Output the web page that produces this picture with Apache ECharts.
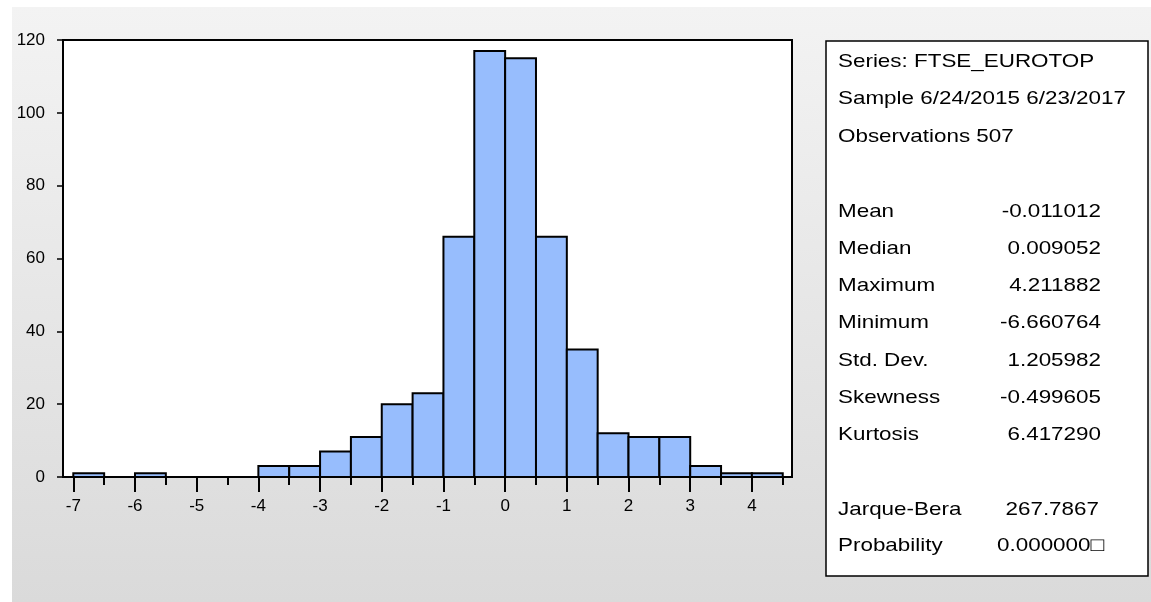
<!DOCTYPE html>
<html>
<head>
<meta charset="utf-8">
<script src="https://cdn.jsdelivr.net/npm/echarts@6/dist/echarts.min.js"></script>
<style>
html,body{margin:0;padding:0;background:#fff;}
#chart{width:1151px;height:602px;}
</style>
</head>
<body>
<div id="chart"></div>
<script>
// ---- data ----
const binStarts = [-7, -6.5, -6, -5.5, -5, -4.5, -4, -3.5, -3, -2.5, -2, -1.5, -1, -0.5, 0, 0.5, 1, 1.5, 2, 2.5, 3, 3.5, 4];
const binWidth = 0.5;
const counts = [1, 0, 1, 0, 0, 0, 3, 3, 7, 11, 20, 23, 66, 117, 115, 66, 35, 12, 11, 11, 3, 1, 1];
const xMajorTicks = [-7, -6, -5, -4, -3, -2, -1, 0, 1, 2, 3, 4];
const xMinorTicks = [-6.5, -5.5, -4.5, -3.5, -2.5, -1.5, -0.5, 0.5, 1.5, 2.5, 3.5, 4.5];
const yTicks = [0, 20, 40, 60, 80, 100, 120];
const headerLines = ['Series: FTSE_EUROTOP', 'Sample 6/24/2015 6/23/2017', 'Observations 507'];
const statNames = ['Mean', 'Median', 'Maximum', 'Minimum', 'Std. Dev.', 'Skewness', 'Kurtosis'];
const statValues = ['-0.011012', '0.009052', '4.211882', '-6.660764', '1.205982', '-0.499605', '6.417290'];
const testNames = ['Jarque-Bera', 'Probability'];
const testValues = ['267.7867', '0.000000\u25A1'];

// ---- chart ----
const chart = echarts.init(document.getElementById('chart'));
const tickFont = { color: '#000', fontFamily: 'Liberation Sans', fontSize: 17 };
const STAT_FONT = '19px "Liberation Sans"';
const SX = 1.18;

const graphics = [];
graphics.push({ type: 'rect', z: -10, silent: true, shape: { x: 0, y: 0, width: 1151, height: 602 }, style: { fill: '#fff' } });
graphics.push({
  type: 'rect', z: -9, silent: true, shape: { x: 12, y: 7, width: 1139, height: 595 },
  style: { fill: new echarts.graphic.LinearGradient(0, 0, 0, 1, [{ offset: 0, color: '#f3f3f3' }, { offset: 1, color: '#dadada' }]) }
});
graphics.push({ type: 'rect', z: 1, shape: { x: 826, y: 41, width: 322, height: 535 }, style: { fill: '#fff', stroke: '#000', lineWidth: 1.5 } });

function addText(txt, x, y, align) {
  graphics.push({
    type: 'text', z: 2, x: x, y: y, scaleX: SX,
    style: { text: txt, font: STAT_FONT, fill: '#000', textAlign: align, textVerticalAlign: 'middle' }
  });
}
const headerY = [62, 99, 137];
headerLines.forEach((t, i) => addText(t, 838, headerY[i], 'left'));
const statY = [212, 249, 286, 323, 361, 398, 435];
statNames.forEach((t, i) => { addText(t, 838, statY[i], 'left'); addText(statValues[i], 1101, statY[i], 'right'); });
const testY = [510, 546];
addText(testNames[0], 838, testY[0], 'left');
addText(testValues[0], 1099, testY[0], 'right');
addText(testNames[1], 838, testY[1], 'left');
addText(testValues[1], 997, testY[1], 'left');

const xMin = -7.167, xMax = 4.65;

const option = {
  animation: false,
  backgroundColor: 'transparent',
  grid: { left: 63, top: 40, right: 359, bottom: 125, show: true, backgroundColor: '#fff', borderColor: '#000', borderWidth: 2 },
  xAxis: [
    {
      type: 'value', min: xMin, max: xMax, position: 'bottom',
      axisLine: { show: true, onZero: false, lineStyle: { color: '#000', width: 2 } },
      axisTick: { show: true, customValues: xMajorTicks, length: 15, lineStyle: { color: '#000', width: 2 } },
      axisLabel: Object.assign({ customValues: xMajorTicks, margin: 21 }, tickFont),
      splitLine: { show: false }
    },
    {
      type: 'value', min: xMin, max: xMax, position: 'bottom', offset: 0,
      axisLine: { show: false, onZero: false },
      axisTick: { show: true, customValues: xMinorTicks, length: 8, lineStyle: { color: '#000', width: 2 } },
      axisLabel: { show: false },
      splitLine: { show: false }
    }
  ],
  yAxis: {
    type: 'value', min: 0, max: 120, interval: 20,
    axisLine: { show: true, onZero: false, lineStyle: { color: '#000', width: 2 } },
    axisTick: { show: true, length: 6, lineStyle: { color: '#000', width: 1.5 } },
    axisLabel: Object.assign({ margin: 18, customValues: yTicks }, tickFont),
    splitLine: { show: false }
  },
  graphic: graphics,
  series: [{
    type: 'custom',
    xAxisIndex: 0,
    data: binStarts.map((s, i) => [s, s + binWidth, counts[i]]),
    renderItem: function (params, api) {
      const c = api.value(2);
      if (!c) return null;
      const p0 = api.coord([api.value(0), c]);
      const p1 = api.coord([api.value(1), 0]);
      return {
        type: 'rect',
        shape: { x: p0[0], y: p0[1], width: p1[0] - p0[0], height: p1[1] - p0[1] },
        style: { fill: '#97bdfd', stroke: '#000', lineWidth: 2 }
      };
    },
    z: 3
  }]
};
chart.setOption(option);
</script>
</body>
</html>
